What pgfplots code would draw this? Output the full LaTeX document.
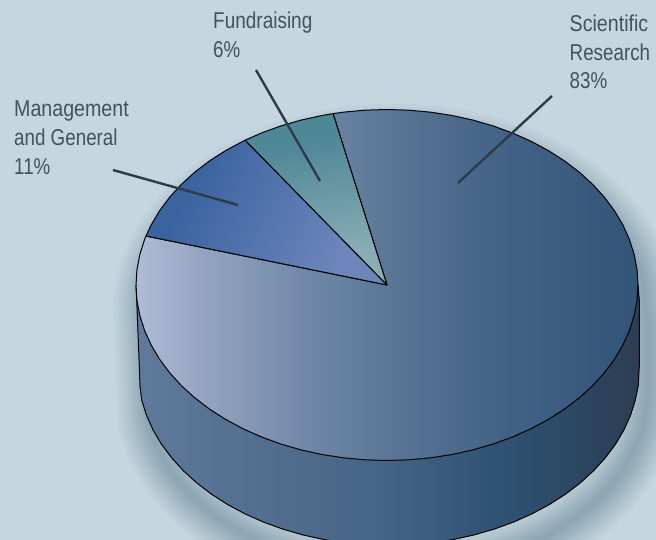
\documentclass[border=0pt]{standalone}
\usepackage{pgfplots}
\usepackage{pgfplotstable}
\usepackage{graphicx}
\usepackage{fontspec}
\pgfplotsset{compat=1.18}
\setmainfont[FakeStretch=0.82]{Liberation Sans}
\definecolor{bg}{HTML}{C5D6DE}
\definecolor{txt}{HTML}{44525F}
\definecolor{lead}{HTML}{2E3B49}
\definecolor{shad}{HTML}{5F8294}
\definecolor{ma}{HTML}{B0BCD6}\definecolor{mb}{HTML}{95A5C0}\definecolor{mc}{HTML}{728AA8}
\definecolor{md}{HTML}{5B7696}\definecolor{me}{HTML}{436286}\definecolor{mf}{HTML}{325477}
\definecolor{ba}{HTML}{5F7A9A}\definecolor{bb}{HTML}{466485}\definecolor{bc}{HTML}{2F5272}
\definecolor{bd}{HTML}{2C435C}\definecolor{be}{HTML}{2C3D52}
\definecolor{ga}{HTML}{3A639F}\definecolor{gb}{HTML}{6C85BA}
\definecolor{ta}{HTML}{4E8796}\definecolor{tb}{HTML}{8AADB5}
\pgfdeclarehorizontalshading{mainpie}{100bp}{color(0bp)=(ma);color(25bp)=(ma);color(31.4bp)=(mb);color(41.3bp)=(mc);color(50bp)=(md);color(61.3bp)=(me);color(75bp)=(mf);color(100bp)=(mf)}
\pgfdeclarehorizontalshading{bodypie}{100bp}{color(0bp)=(ba);color(25bp)=(ba);color(49.3bp)=(bb);color(61.2bp)=(bc);color(71.2bp)=(bd);color(75bp)=(be);color(100bp)=(be)}
\pgfdeclarehorizontalshading{mgmt}{100bp}{color(0bp)=(ga);color(30bp)=(ga);color(70bp)=(gb);color(100bp)=(gb)}
\pgfdeclarehorizontalshading{teal}{100bp}{color(0bp)=(ta);color(32bp)=(ta);color(68bp)=(tb);color(100bp)=(tb)}
\pgfplotstableread{
x y
136 285
136.7 300
139.3 366
140 386
141.81 400.48
146.54 415.42
153.11 430.02
161.47 444.17
171.57 457.75
183.30 470.67
196.62 482.81
211.37 494.10
227.48 504.44
244.81 513.76
263.25 521.99
282.64 529.06
302.83 534.92
323.67 539.52
345.01 542.83
366.66 544.83
388.50 545.50
410.34 544.83
431.99 542.83
453.33 539.52
474.17 534.92
494.36 529.06
513.75 521.99
532.19 513.76
549.52 504.44
565.63 494.10
580.38 482.81
593.70 470.67
605.43 457.75
615.53 444.17
623.89 430.02
630.46 415.42
635.19 400.48
638.30 385.30
639.30 366
639.30 300
638 285
}\bodytable
\pgfplotstableread{
x y
136 285
136.7 300
139.3 366
140 386
141.81 400.48
146.54 415.42
153.11 430.02
161.47 444.17
171.57 457.75
183.30 470.67
196.62 482.81
211.37 494.10
227.48 504.44
244.81 513.76
263.25 521.99
282.64 529.06
302.83 534.92
323.67 539.52
345.01 542.83
366.66 544.83
388.50 545.50
410.34 544.83
431.99 542.83
453.33 539.52
474.17 534.92
494.36 529.06
513.75 521.99
532.19 513.76
549.52 504.44
565.63 494.10
580.38 482.81
593.70 470.67
605.43 457.75
615.53 444.17
623.89 430.02
630.46 415.42
635.19 400.48
638.30 385.30
639.30 366
639.30 300
638 285
634.19 254.52
629.45 239.58
622.86 224.98
614.48 210.83
604.37 197.25
592.61 184.33
579.28 172.19
564.48 160.90
548.34 150.56
530.97 141.24
512.50 133.01
493.08 125.94
472.85 120.08
451.96 115.48
430.59 112.17
408.88 110.17
387.00 109.50
365.12 110.17
343.41 112.17
322.04 115.48
301.15 120.08
280.92 125.94
261.50 133.01
243.03 141.24
225.66 150.56
209.52 160.90
194.72 172.19
181.39 184.33
169.63 197.25
159.52 210.83
151.14 224.98
144.55 239.58
139.81 254.52
136.96 269.70
136 285
}\silhouette
\pgfplotstableread{
x y
387 285
146.00 236.04
144.55 239.58
139.81 254.52
136.96 269.70
136.00 285.00
136.96 300.30
139.81 315.48
144.55 330.42
151.14 345.02
159.52 359.17
169.63 372.75
181.39 385.67
194.72 397.81
209.52 409.10
225.66 419.44
243.03 428.76
261.50 436.99
280.92 444.06
301.15 449.92
322.04 454.52
343.41 457.83
365.12 459.83
387.00 460.50
408.88 459.83
430.59 457.83
451.96 454.52
472.85 449.92
493.08 444.06
512.50 436.99
530.97 428.76
548.34 419.44
564.48 409.10
579.28 397.81
592.61 385.67
604.37 372.75
614.48 359.17
622.86 345.02
629.45 330.42
634.19 315.48
637.04 300.30
638.00 285.00
637.04 269.70
634.19 254.52
629.45 239.58
622.86 224.98
614.48 210.83
604.37 197.25
592.61 184.33
579.28 172.19
564.48 160.90
548.34 150.56
530.97 141.24
512.50 133.01
493.08 125.94
472.85 120.08
451.96 115.48
430.59 112.17
408.88 110.17
387.00 109.50
365.12 110.17
343.41 112.17
333.10 113.59
387 285
}\mainslice
\pgfplotstableread{
x y
387 285
333.10 113.59
322.04 115.48
301.15 120.08
280.92 125.94
261.50 133.01
245.20 140.20
387 285
}\tealslice
\pgfplotstableread{
x y
387 285
245.20 140.20
243.03 141.24
225.66 150.56
209.52 160.90
194.72 172.19
181.39 184.33
169.63 197.25
159.52 210.83
151.14 224.98
146.00 236.04
387 285
}\mgmtslice
\begin{document}
\begin{tikzpicture}
\begin{axis}[
  width=656bp, height=540bp, scale only axis,
  xmin=0, xmax=656, ymin=0, ymax=540, y dir=reverse,
  hide axis, clip=true, no markers,
]
\addplot[draw=none, fill=bg] coordinates {(0,0) (656,0) (656,540) (0,540) (0,0)};
\pgfplotsinvokeforeach{62,55,49,43,38,33,29,25,21,17,13,9,5}{
  \addplot[draw=shad, line width=#1bp, opacity=0.05, line join=round, line cap=round, xshift=8bp, yshift=-25bp] table {\silhouette};
}
\addplot[shading=bodypie, draw=black, line width=1bp, line join=round] table {\bodytable};
\addplot[shading=mainpie, draw=black, line width=1bp, line join=round] table {\mainslice};
\addplot[shading=mgmt, shading angle=-25, draw=black, line width=1bp, line join=round] table {\mgmtslice};
\addplot[shading=teal, shading angle=-80, draw=black, line width=1bp, line join=round] table {\tealslice};
\addplot[draw=lead, line width=2.4bp] coordinates {(113,170) (238,205)};
\addplot[draw=lead, line width=2.4bp] coordinates {(256,70) (320,181)};
\addplot[draw=lead, line width=2.4bp] coordinates {(552,96) (458,183)};
\tikzset{lab/.style={anchor=base west, inner sep=0pt, text=txt, font=\fontsize{23}{29}\selectfont}}
\node[lab] at (axis cs:14,117) {\scalebox{1.045}[1]{Management}};
\node[lab] at (axis cs:14,146) {and General};
\node[lab] at (axis cs:14,175) {11\%};
\node[lab] at (axis cs:213,28.5) {\scalebox{1.01}[1]{Fundraising}};
\node[lab] at (axis cs:213,58) {6\%};
\node[lab] at (axis cs:569.5,32) {\scalebox{1.045}[1]{Scientific}};
\node[lab] at (axis cs:569.5,61) {Research};
\node[lab] at (axis cs:569.5,89) {83\%};
\end{axis}
\end{tikzpicture}
\end{document}
